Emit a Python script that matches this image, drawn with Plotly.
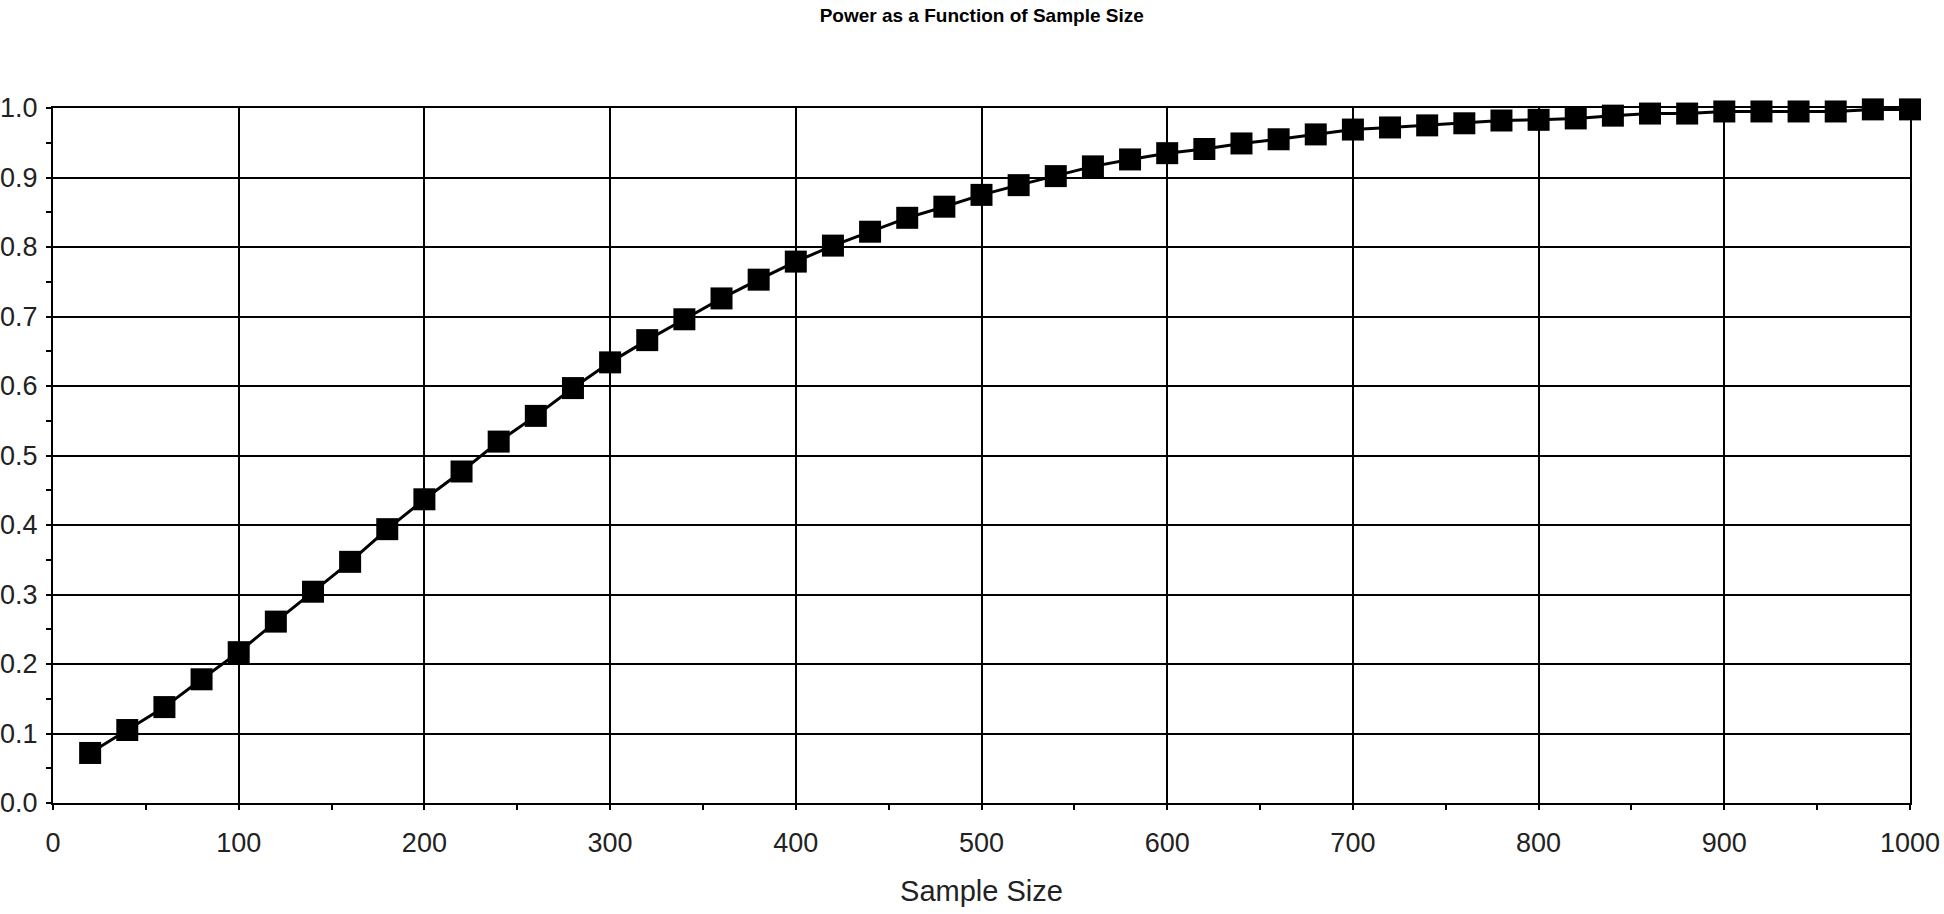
import plotly.graph_objects as go

sample_size = [20, 40, 60, 80, 100, 120, 140, 160, 180, 200,
               220, 240, 260, 280, 300, 320, 340, 360, 380, 400,
               420, 440, 460, 480, 500, 520, 540, 560, 580, 600,
               620, 640, 660, 680, 700, 720, 740, 760, 780, 800,
               820, 840, 860, 880, 900, 920, 940, 960, 980, 1000]
power = [0.072, 0.105, 0.138, 0.178, 0.217, 0.261, 0.304, 0.347, 0.394, 0.437,
         0.477, 0.520, 0.557, 0.597, 0.634, 0.666, 0.696, 0.726, 0.753, 0.779,
         0.802, 0.822, 0.842, 0.858, 0.875, 0.889, 0.902, 0.916, 0.926, 0.935,
         0.941, 0.949, 0.955, 0.962, 0.969, 0.972, 0.975, 0.978, 0.982, 0.983,
         0.985, 0.989, 0.992, 0.992, 0.995, 0.995, 0.995, 0.995, 0.998, 0.998]

title_text = "Power as a Function of Sample Size"
x_title = "Sample Size"

FONT = "Liberation Sans, Arial, sans-serif"

fig = go.Figure()
fig.add_trace(go.Scatter(
    x=sample_size, y=power, mode="lines+markers",
    line=dict(color="black", width=3),
    marker=dict(symbol="square", size=22, color="black"),
    cliponaxis=False, showlegend=False,
))

axis_common = dict(
    showline=True, linecolor="black", linewidth=2, mirror=True,
    showgrid=True, gridcolor="black", gridwidth=2,
    ticks="outside", ticklen=5, tickwidth=2, tickcolor="black",
    tickfont=dict(family=FONT, size=27, color="#222"),
    zeroline=False, automargin=False,
)

fig.update_layout(
    width=1944, height=914,
    paper_bgcolor="white", plot_bgcolor="white",
    margin=dict(l=53, r=34, t=108, b=111, autoexpand=False),
    title=dict(text=title_text, x=0.505, xanchor="center", y=0.9836, yanchor="middle",
               automargin=False,
               font=dict(family=FONT, size=19, color="black", weight="bold")),
    xaxis=dict(range=[0, 1000], dtick=100, tick0=0,
               ticklabelstandoff=10,
               minor=dict(dtick=50, ticks="outside", ticklen=5, tickwidth=2,
                          tickcolor="black", showgrid=False),
               title=dict(text=x_title, standoff=23,
                          font=dict(family=FONT, size=29, color="#222")),
               **axis_common),
    yaxis=dict(range=[0, 1], dtick=0.1, tick0=0, tickformat=".1f",
               ticklabelstandoff=3,
               minor=dict(dtick=0.05, ticks="outside", ticklen=5, tickwidth=2,
                          tickcolor="black", showgrid=False),
               **axis_common),
    xaxis2=dict(overlaying="x", matches="x", anchor="y", range=[0, 1000],
                showgrid=False, showticklabels=False, ticks="", zeroline=False,
                showline=False, automargin=False,
                minor=dict(dtick=50, ticks="inside", ticklen=5, tickwidth=2,
                           tickcolor="black", showgrid=False)),
    yaxis2=dict(overlaying="y", matches="y", anchor="x", range=[0, 1],
                showgrid=False, showticklabels=False, ticks="", zeroline=False,
                showline=False, automargin=False,
                minor=dict(dtick=0.05, ticks="inside", ticklen=5, tickwidth=2,
                           tickcolor="black", showgrid=False)),
)

fig.write_html("out.html", config={"displayModeBar": False},
               post_script="document.body.style.margin='0';")
